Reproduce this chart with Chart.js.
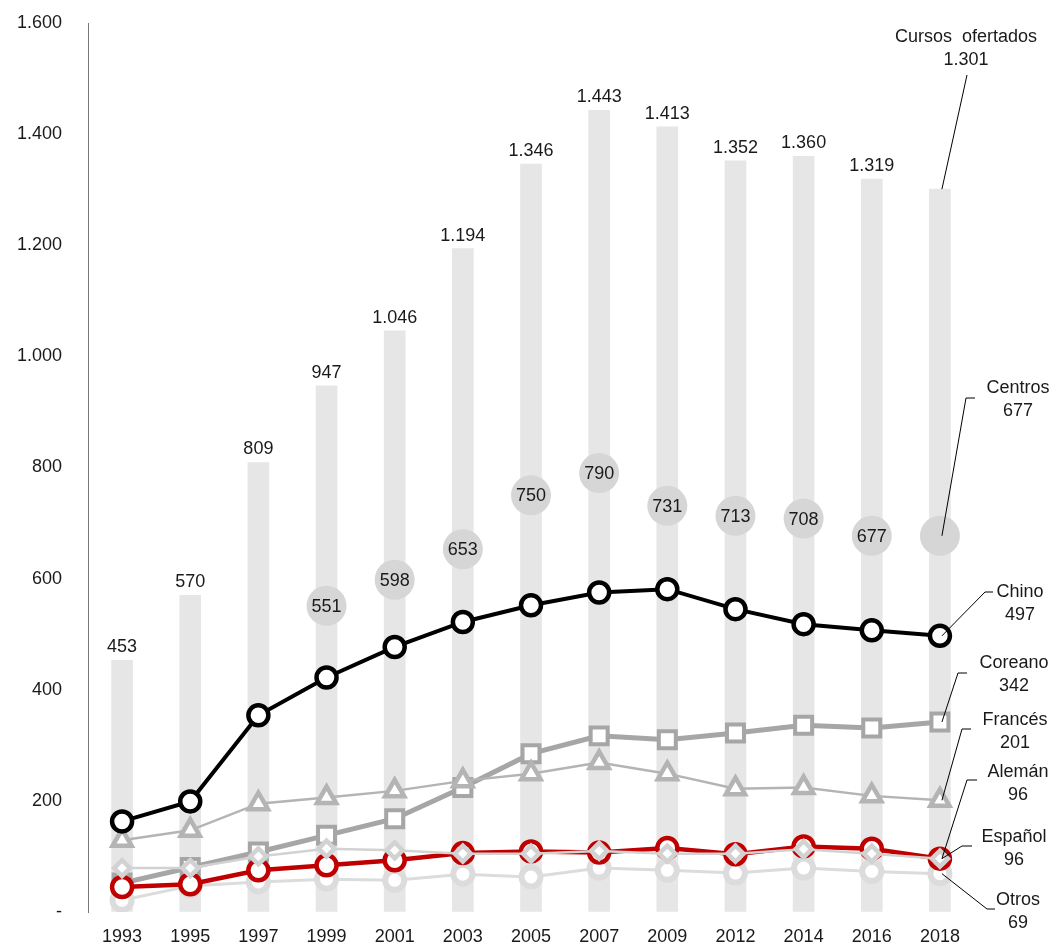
<!DOCTYPE html>
<html>
<head>
<meta charset="utf-8">
<script src="https://cdn.jsdelivr.net/npm/chart.js@4/dist/chart.umd.min.js"></script>
<style>
  html, body { margin: 0; padding: 0; background: #fff; }
  #wrap { width: 1056px; height: 944px; }
</style>
</head>
<body>
<div id="wrap"><canvas id="grafico"></canvas></div>
<script>
const anios = ["1993", "1995", "1997", "1999", "2001", "2003", "2005", "2007", "2009", "2012", "2014", "2016", "2018"];
const cursos = [453, 570, 809, 947, 1046, 1194, 1346, 1443, 1413, 1352, 1360, 1319, 1301];
const centros = [null, null, null, 551, 598, 653, 750, 790, 731, 713, 708, 677, 677];
const chino = [163, 199, 354, 422, 477, 522, 552, 575, 581, 545, 518, 507, 497];
const coreano = [52, 80, 108, 138, 168, 224, 285, 317, 310, 322, 336, 331, 342];
const frances = [129, 147, 195, 206, 218, 236, 249, 269, 249, 222, 224, 209, 201];
const aleman = [79, 79, 100, 114, 111, 105, 105, 110, 105, 105, 113, 105, 96];
const espanol = [45, 50, 75, 84, 93, 106, 109, 107, 115, 104, 118, 114, 96];
const otros = [21, 47, 54, 59, 57, 68, 63, 79, 75, 70, 79, 73, 69];
const ticksY = [0, 200, 400, 600, 800, 1000, 1200, 1400, 1600];

const fuente = "Liberation Sans, Arial, sans-serif";
const colorTexto = "#1a1a1a";

function formato(n) {
  if (n === 0) return "-";
  return String(n).replace(/\B(?=(\d{3})+(?!\d))/g, ".");
}

// etiquetas de la derecha: texto y posicion del rotulo
const rotulos = [
  { ds: 0, nombre: "Cursos  ofertados", x: 966, y: 37, codo: null, ini: [967, 75] },
  { ds: 1, nombre: "Centros", x: 1018, y: 388, codo: [966, 398], ini: [975, 398] },
  { ds: 2, nombre: "Chino", x: 1020, y: 592, codo: [985, 592], ini: [993, 592] },
  { ds: 3, nombre: "Coreano", x: 1014, y: 663, codo: [958, 673], ini: [967, 673] },
  { ds: 4, nombre: "Francés", x: 1015, y: 720, codo: [962, 729], ini: [971, 729] },
  { ds: 5, nombre: "Alemán", x: 1018, y: 772, codo: [967, 780], ini: [977, 780] },
  { ds: 6, nombre: "Español", x: 1014, y: 837, codo: [962, 846], ini: [972, 846] },
  { ds: 7, nombre: "Otros", x: 1018, y: 900, codo: [987, 909], ini: [995, 909] }
];

const etiquetas = {
  id: "etiquetas",
  afterDatasetsDraw(chart) {
    const ctx = chart.ctx;
    const ultimo = anios.length - 1;
    ctx.save();
    ctx.font = "18px " + fuente;
    ctx.fillStyle = colorTexto;
    ctx.textAlign = "center";

    // valores sobre las barras
    const barras = chart.getDatasetMeta(0).data;
    ctx.textBaseline = "bottom";
    barras.forEach((b, i) => {
      if (i === ultimo) return;
      ctx.fillText(formato(cursos[i]), b.x, b.y - 4);
    });

    // valores dentro de los circulos de centros
    const circ = chart.getDatasetMeta(1).data;
    ctx.textBaseline = "middle";
    circ.forEach((p, i) => {
      if (i === ultimo || centros[i] === null) return;
      ctx.fillText(formato(centros[i]), p.x, p.y + 1);
    });

    // rotulos con linea guia
    rotulos.forEach(r => {
      const punto = chart.getDatasetMeta(r.ds).data[ultimo];
      const valor = chart.data.datasets[r.ds].data[ultimo];
      ctx.fillStyle = colorTexto;
      ctx.fillText(r.nombre, r.x, r.y);
      ctx.fillText(formato(valor), r.x, r.y + 23);
      ctx.strokeStyle = "#000";
      ctx.lineWidth = 1;
      ctx.beginPath();
      ctx.moveTo(r.ini[0], r.ini[1]);
      if (r.codo) ctx.lineTo(r.codo[0], r.codo[1]);
      ctx.lineTo(punto.x + 2, punto.y);
      ctx.stroke();
    });
    ctx.restore();
  }
};

function serie(label, data, color, lineW, estilo, radio, bordeW, orden) {
  return {
    type: "line",
    label: label,
    data: data,
    borderColor: color,
    borderWidth: lineW,
    pointStyle: estilo,
    pointRadius: radio,
    pointHoverRadius: radio,
    pointBorderColor: color,
    pointBackgroundColor: "#fff",
    pointBorderWidth: bordeW,
    tension: 0,
    order: orden
  };
}

Chart.defaults.font.family = fuente;
Chart.defaults.font.size = 18;
Chart.defaults.color = colorTexto;

new Chart(document.getElementById("grafico"), {
  data: {
    labels: anios,
    datasets: [
      {
        type: "bar",
        label: "Cursos ofertados",
        data: cursos,
        backgroundColor: "#e6e6e6",
        barThickness: 21,
        order: 9
      },
      {
        type: "line",
        label: "Centros",
        data: centros,
        showLine: false,
        pointRadius: 20,
        pointHoverRadius: 20,
        pointBackgroundColor: "#d6d6d6",
        pointBorderWidth: 0,
        order: 8
      },
      serie("Chino", chino, "#000000", 4, "circle", 10, 4.5, 1),
      serie("Coreano", coreano, "#a6a6a6", 5, "rect", 12, 4, 5),
      serie("Francés", frances, "#b4b4b4", 2.5, "triangle", 11, 4.5, 3),
      serie("Alemán", aleman, "#d2d2d2", 2.5, "rectRot", 8, 4.5, 2),
      serie("Español", espanol, "#c00000", 4.5, "circle", 10, 4.5, 4),
      serie("Otros", otros, "#dcdcdc", 3, "circle", 9.5, 6, 6)
    ]
  },
  options: {
    responsive: true,
    maintainAspectRatio: false,
    animation: false,
    layout: { autoPadding: false, padding: { top: 23, right: 82, bottom: 0, left: 0 } },
    plugins: {
      legend: { display: false },
      tooltip: { enabled: false }
    },
    scales: {
      x: {
        grid: { display: false, drawTicks: false },
        border: { display: false },
        ticks: { padding: 14, color: colorTexto },
        afterFit(scale) { scale.height = 32; }
      },
      y: {
        min: 0,
        max: 1600,
        afterBuildTicks(scale) { scale.ticks = ticksY.map(v => ({ value: v })); },
        grid: { display: true, drawOnChartArea: false, drawTicks: true, tickLength: 22, tickColor: "rgba(0,0,0,0)" },
        border: { display: true, color: "#777", width: 1, dash: [1, 1] },
        ticks: { padding: 4, color: colorTexto, callback: v => formato(v) },
        afterFit(scale) { scale.width = 88; }
      }
    }
  },
  plugins: [etiquetas]
});
</script>
</body>
</html>
